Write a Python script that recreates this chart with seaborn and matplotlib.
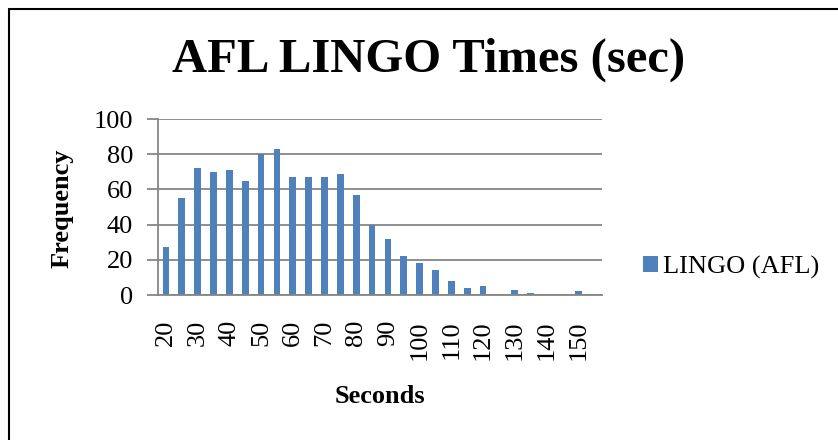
import matplotlib
matplotlib.use("Agg")
import matplotlib.pyplot as plt
import seaborn as sns
import pandas as pd
from matplotlib.patches import Rectangle

# Data
bins = [20, 25, 30, 35, 40, 45, 50, 55, 60, 65, 70, 75, 80, 85, 90, 95,
        100, 105, 110, 115, 120, 125, 130, 135, 140, 145, 150, 155]
freq = [27, 55, 72, 70, 71, 65, 80, 83, 67, 67, 67, 69, 57, 40, 32, 22,
        18, 14, 8, 4, 5, 0, 3, 1, 0, 0, 2, 0]
series_name = "LINGO (AFL)"
title = "AFL LINGO Times (sec)"
xlabel = "Seconds"
ylabel = "Frequency"
yticks = [0, 20, 40, 60, 80, 100]

sns.set_theme(style="white")
plt.rcParams['font.family'] = ['Liberation Serif', 'DejaVu Serif']
plt.rcParams['text.color'] = 'black'
plt.rcParams['xtick.color'] = 'black'
plt.rcParams['ytick.color'] = 'black'

df = pd.DataFrame({"bin": [str(b) for b in bins], "freq": freq,
                   "series": series_name})

fig = plt.figure(figsize=(8.38, 4.4), dpi=100)
ax = fig.add_axes([158/838, 1 - 295/440, 444/838, 176/440])

sns.barplot(data=df, x="bin", y="freq", hue="series",
            palette=["#4F81BD"], width=0.42, ax=ax, legend=False,
            saturation=1, linewidth=0)

ax.set_ylim(0, 100)
ax.set_xlim(-0.5, len(bins) - 0.5)
ax.set_yticks(yticks)
ax.set_yticklabels([str(t) for t in yticks], fontsize=19)
ax.set_xticks(range(len(bins)))
ax.set_xticklabels([str(b) if i % 2 == 0 and b <= 150 else "" for i, b in enumerate(bins)],
                   rotation=90, fontsize=19)
ax.tick_params(axis="x", length=0, pad=18, labelcolor="black")
ax.tick_params(axis="y", length=8, width=1.3, color="#868686", pad=10,
               left=True, labelcolor="black")
ax.grid(axis="y", color="#868686", linewidth=1.3)
ax.set_axisbelow(True)
for s in ["top", "right"]:
    ax.spines[s].set_visible(False)
ax.spines["left"].set_color("#868686")
ax.spines["left"].set_linewidth(1.3)
ax.spines["bottom"].set_color("#868686")
ax.spines["bottom"].set_linewidth(1.3)
ax.set_xlabel("")
ax.set_ylabel("")

fig.text(429/838, 1 - 60/440, title, ha="center", va="center",
         fontsize=35, fontweight="bold", color="black")
fig.text(380/838, 1 - 396/440, xlabel, ha="center", va="center",
         fontsize=19, fontweight="bold", color="black")
fig.text(62/838, 1 - 208/440, ylabel, ha="center", va="center",
         fontsize=19, fontweight="bold", rotation=90, color="black")

handle = Rectangle((0, 0), 1, 1, facecolor="#4F81BD", edgecolor="none")
fig.legend([handle], [series_name], loc="center left",
           bbox_to_anchor=(643/838, 1 - 267/440), frameon=False,
           fontsize=19, handlelength=0.55, handleheight=0.55,
           handletextpad=0.2, borderpad=0, borderaxespad=0,
           labelcolor="black")

# chart border
fig.add_artist(plt.Line2D([9/838, 1.0], [1 - 9.5/440, 1 - 9.5/440],
                          color="black", linewidth=1.5, transform=fig.transFigure))
fig.add_artist(plt.Line2D([9/838, 9/838], [0, 1 - 9.5/440],
                          color="black", linewidth=1.5, transform=fig.transFigure))

fig.savefig("out.png", dpi=100)
